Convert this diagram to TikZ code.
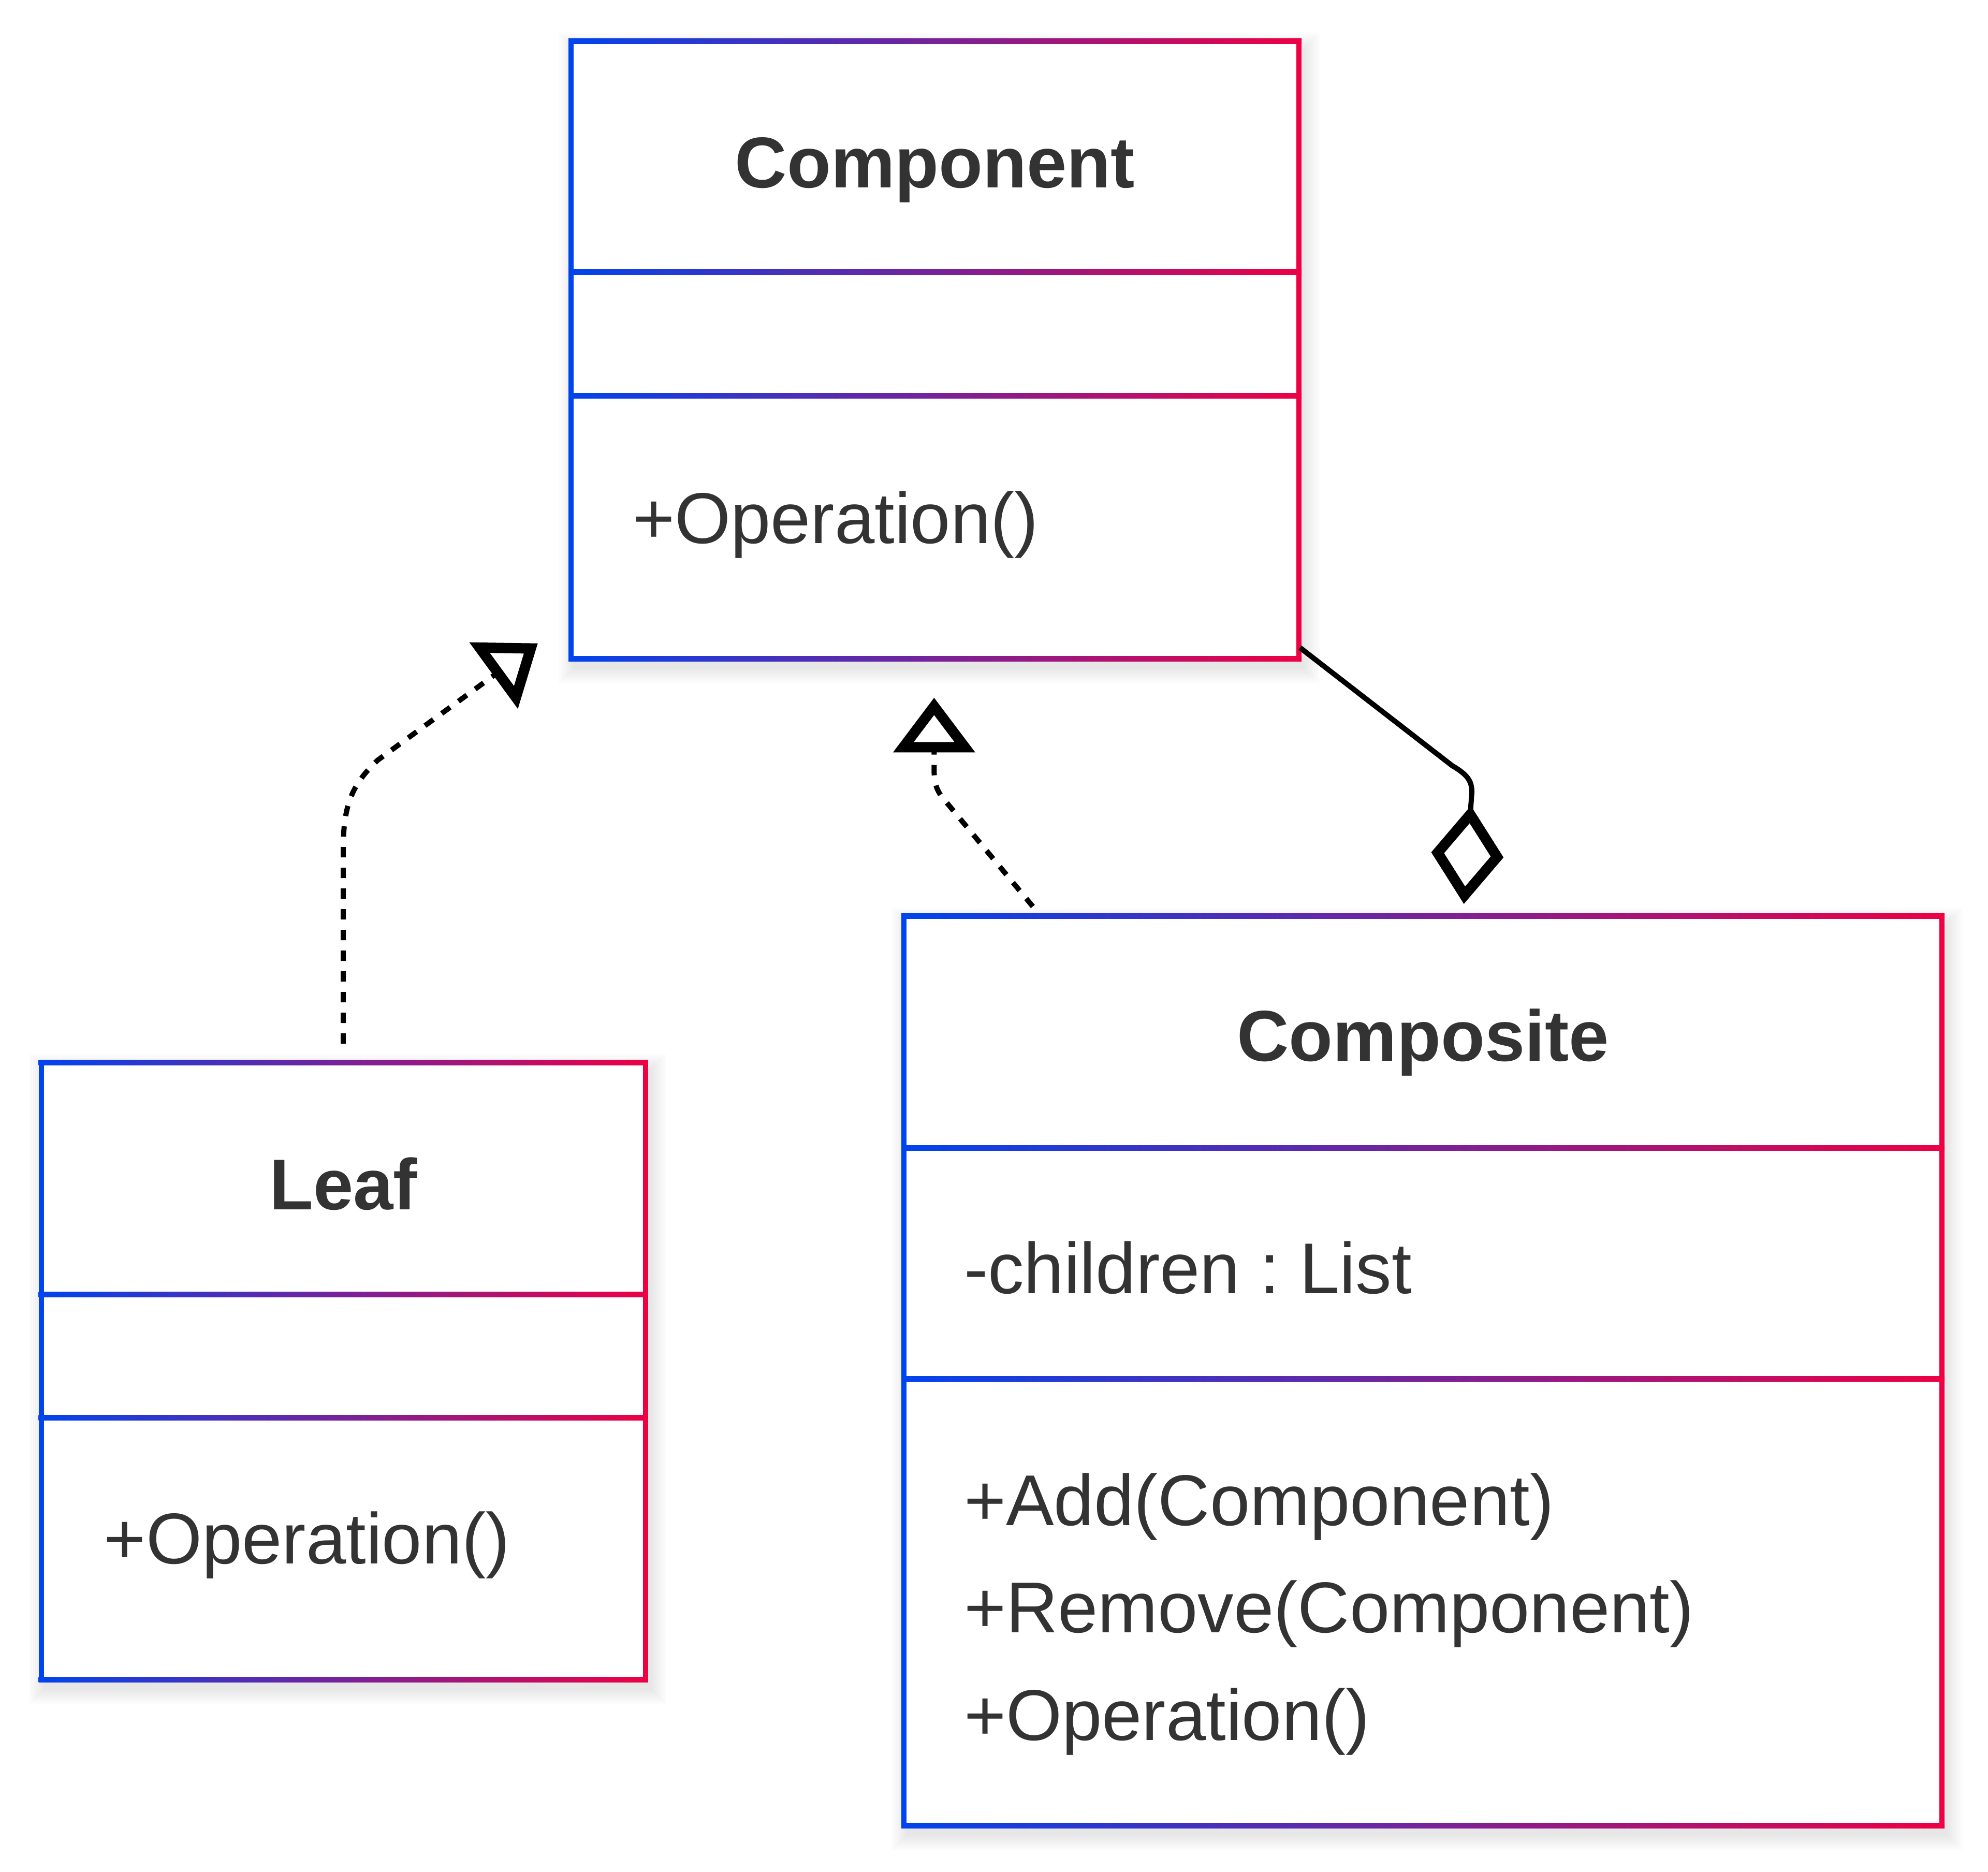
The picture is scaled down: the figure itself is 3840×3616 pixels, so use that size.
\documentclass[tikz,border=0pt]{standalone}
\usepackage{fontspec}
\setmainfont{Liberation Sans}
\usepackage{tikz}
\usetikzlibrary{arrows.meta}
\usetikzlibrary{fit}
\frenchspacing

\definecolor{umlblue}{RGB}{0,68,238}
\definecolor{umlred}{RGB}{238,0,68}
\definecolor{umltext}{RGB}{51,51,51}

% soft shadow behind a class box: left, top, right, bottom
\newcommand{\classshadow}[4]{%
	\foreach \s in {1,...,8} {
		\fill[black,opacity=0.011] (#1-4*\s+8,#2-4*\s+16) rectangle (#3+4*\s+8,#4+4*\s+16);
	}
}

% class box: name, left, top, right, bottom, first divider, second divider
\newcommand{\classbox}[7]{%
	\fill[white] (#2,#3) rectangle (#4,#5);
	\foreach \y in {#3,#6,#7,#5} {
		\shade[left color=umlblue,right color=umlred] (#2-5,\y-5) rectangle (#4+5,\y+5);
	}
	\fill[umlblue] (#2-5,#3-5) rectangle (#2+5,#5+5);
	\fill[umlred] (#4-5,#3-5) rectangle (#4+5,#5+5);
	\node[fit={(#2,#3) (#4,#5)},inner sep=0pt] (#1) {};
}

\begin{document}
\begin{tikzpicture}[x=0.1pt,y=-0.1pt,
		classname/.style={anchor=base,inner sep=0pt,text=umltext,font=\fontsize{13.9pt}{16pt}\selectfont\bfseries},
		member/.style={anchor=base west,inner sep=0pt,text=umltext,font=\fontsize{13.9pt}{16pt}\selectfont},
		realization/.style={draw=black,line width=1pt,dash pattern=on 2pt off 2pt,
			-{Triangle[open,length=10.6pt,width=15.4pt,line width=2pt]}},
		aggregation/.style={draw=black,line width=1pt,
			{Diamond[open,length=19pt,width=14pt,line width=2pt]}-}]
	\useasboundingbox (0,0) rectangle (3840,3616);

	\classshadow{1103}{80}{2509}{1272}
	\classshadow{79.5}{2052}{1246.6}{3244}
	\classshadow{1746}{1769}{3751}{3526}

	% Component
	\classbox{component}{1103}{80}{2509}{1272}{526}{765}
	\node[classname] (componentname) at (1806,363) {Component};
	\node[member] (componentop) at (1220,1050) {+Operation()};

	% Leaf
	\classbox{leaf}{79.5}{2052}{1246.6}{3244}{2500}{2738}
	\node[classname] (leafname) at (663,2336) {Leaf};
	\node[member] (leafop) at (199,3020) {+Operation()};

	% Composite
	\classbox{composite}{1746}{1769}{3751}{3526}{2217}{2663}
	\node[classname] (compositename) at (2748.5,2049) {Composite};
	\node[member] (children) at (1860,2498) {-children : List};
	\foreach \t [count=\i] in {+Add(Component),+Remove(Component),+Operation()} {
		\node[member] (method\i) at (1860,{2946+(\i-1)*207.5}) {\t};
	}

	% relations
	\coordinate (leafhead) at (1039,1242.5);
	\coordinate (compositehead) at (1804.3,1347.5);
	\coordinate (diamondtip) at (2827.6,1746);
	\draw[realization,dash phase=2pt] ([yshift=1.4pt]leaf.north) -- (663,1640)
		.. controls (663,1555) and (680,1515) .. (730,1468) -- (leafhead);
	\draw[realization] ([xshift=25.1pt,yshift=1.6pt]composite.north west) -- (1820,1540)
		.. controls (1806,1522) and (1804.3,1505) .. (1804.3,1485) -- (compositehead);
	\draw[aggregation] (diamondtip) -- (2843,1530)
		.. controls (2843,1508) and (2834,1496) .. (2805,1479) -- ([yshift=2.3pt]component.south east);
\end{tikzpicture}
\end{document}
